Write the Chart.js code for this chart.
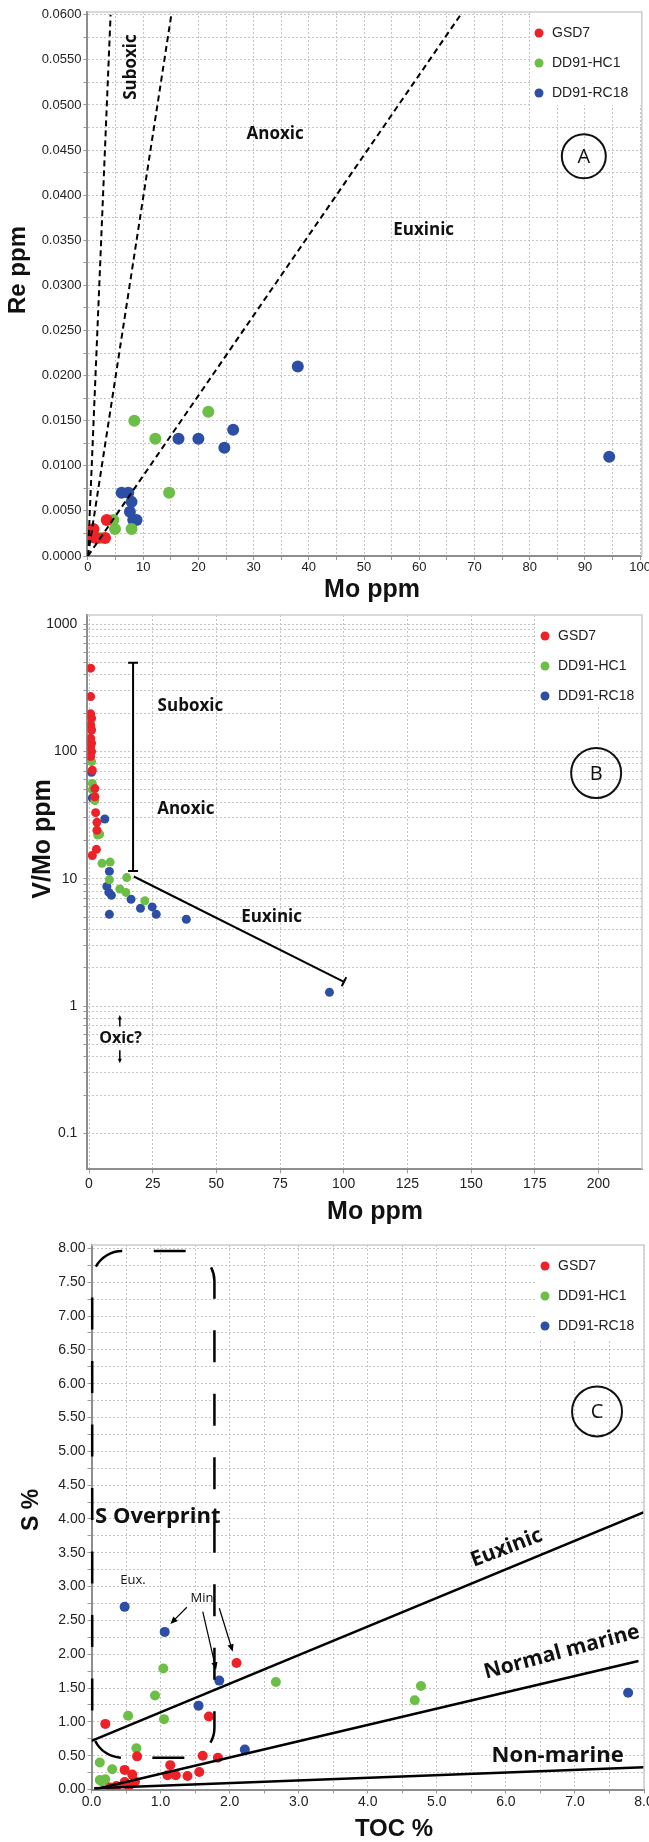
<!DOCTYPE html>
<html>
<head>
<meta charset="utf-8">
<title>Redox proxies</title>
<script src="https://cdn.jsdelivr.net/npm/chart.js@4.4.1/dist/chart.umd.min.js"></script>
<style>
  html, body { margin: 0; padding: 0; background: #ffffff; }
  .panel { position: absolute; left: 0; }
  canvas { display: block; }
</style>
</head>
<body>
<div class="panel" style="top:0px"><canvas id="chartA" width="649" height="607"></canvas></div>
<div class="panel" style="top:607px"><canvas id="chartB" width="649" height="633"></canvas></div>
<div class="panel" style="top:1240px"><canvas id="chartC" width="649" height="602"></canvas></div>
<script>
const wellNames = ['GSD7', 'DD91-HC1', 'DD91-RC18'];
const wellColors = ['#ec2228', '#6cbf46', '#2c4ea4'];

// A: Re vs Mo (ppm)
const moA_GSD7 = [1.0, 3.4, 3.1, 0.7, 1.5];
const reA_GSD7 = [0.0030, 0.0040, 0.0020, 0.0021, 0.0020];
const moA_HC1 = [8.4, 12.2, 21.8, 14.7, 4.6, 4.9, 7.9, 2.2];
const reA_HC1 = [0.0150, 0.0130, 0.0160, 0.0070, 0.0040, 0.0030, 0.0030, 0.0020];
const moA_RC18 = [38.0, 94.4, 16.4, 20.0, 24.7, 26.3, 6.1, 7.3, 7.9, 7.6, 8.2, 8.8];
const reA_RC18 = [0.0210, 0.0110, 0.0130, 0.0130, 0.0120, 0.0140, 0.0070, 0.0070, 0.0060, 0.0049, 0.0040, 0.0040];
// field boundaries: Mo at Re = 0 and at Re = 0.06
const boundMoA = [[0, 4.1], [0, 15.1], [0, 67.5]];
const boundReA = [0, 0.06];
const moTicksA = [0, 10, 20, 30, 40, 50, 60, 70, 80, 90, 100];
const reTicksA = [0, 0.005, 0.01, 0.015, 0.02, 0.025, 0.03, 0.035, 0.04, 0.045, 0.05, 0.055, 0.06];

// B: V/Mo vs Mo (ppm)
const moB_GSD7 = [0.65, 0.65, 0.65, 1.0, 0.65, 1.0, 0.65, 1.0, 0.65, 1.0, 0.65, 1.3, 2.3, 2.3, 2.6, 3.1, 3.1, 2.9, 1.3];
const vmoB_GSD7 = [450, 269, 197, 182, 161, 147, 127, 116, 109, 99.5, 91, 71, 51, 44, 33, 27.7, 24, 17, 15.2];
const moB_HC1 = [0.65, 1.0, 1.3, 1.3, 2.3, 4.2, 3.4, 5.1, 8.3, 8.0, 14.8, 12.1, 14.5, 21.9];
const vmoB_HC1 = [161, 83, 56, 50, 41, 22.4, 22, 13.2, 13.5, 9.8, 10.2, 8.3, 7.8, 6.7];
const moB_RC18 = [1.0, 1.3, 6.2, 8.0, 7.0, 7.8, 8.8, 16.5, 8.0, 20.2, 24.8, 26.4, 38.2, 94.4];
const vmoB_RC18 = [68.5, 43, 29.4, 11.4, 8.7, 7.8, 7.4, 6.9, 5.25, 5.85, 6.0, 5.25, 4.8, 1.28];
// suboxic/anoxic range bar and euxinic trend
const barMoB = [17.3, 17.3];
const barVmoB = [497, 11.5];
const trendMoB = [17.6, 100.1];
const trendVmoB = [10.4, 1.55];
const oxicUpVmoB = [0.69, 0.85];
const oxicDownVmoB = [0.45, 0.355];
const moTicksB = [0, 25, 50, 75, 100, 125, 150, 175, 200];
const vmoTicksB = [0.1, 1, 10, 100, 1000];

// C: S vs TOC (%)
const tocC_GSD7 = [0.2, 2.1, 1.7, 0.66, 1.61, 1.83, 1.14, 0.48, 0.59, 1.1, 1.22, 1.39, 1.56, 0.63, 0.48, 0.36, 0.27, 0.54];
const sC_GSD7 = [0.97, 1.87, 1.08, 0.49, 0.5, 0.47, 0.36, 0.29, 0.22, 0.21, 0.21, 0.2, 0.26, 0.12, 0.11, 0.05, 0.03, 0.05];
const tocC_HC1 = [0.12, 0.3, 0.12, 0.2, 0.15, 0.65, 0.53, 1.05, 0.92, 1.04, 2.67, 4.68, 4.77];
const sC_HC1 = [0.4, 0.3, 0.14, 0.15, 0.12, 0.61, 1.09, 1.04, 1.39, 1.79, 1.59, 1.32, 1.53];
const tocC_RC18 = [0.48, 1.06, 1.85, 1.55, 2.22, 7.77];
const sC_RC18 = [2.7, 2.33, 1.61, 1.24, 0.59, 1.43];
// C/S reference lines
const euxTocC = [0, 8];
const euxSC = [0.72, 4.1];
const marineTocC = [0.04, 7.92];
const marineSC = [0.0, 1.9];
const nonMarineTocC = [0.04, 8];
const nonMarineSC = [0.02, 0.33];
const tocTicksC = [0, 1, 2, 3, 4, 5, 6, 7, 8];
const sTicksC = [0, 0.5, 1, 1.5, 2, 2.5, 3, 3.5, 4, 4.5, 5, 5.5, 6, 6.5, 7, 7.5, 8];

const tickFamily = '"Liberation Sans", Arial, sans-serif';
const noteFamily = '"Open Sans", sans-serif';

const pts = (xs, ys) => xs.map((x, i) => ({ x, y: ys[i] }));

function series(xs, ys, k, r) {
  return {
    label: wellNames[k], data: pts(xs, ys), backgroundColor: wellColors[k],
    borderWidth: 0, pointRadius: r, pointHoverRadius: r, order: 2
  };
}

function guide(xs, ys, extra) {
  return Object.assign({
    data: pts(xs, ys), showLine: true, borderColor: '#000', borderWidth: 2,
    pointRadius: 0, order: 1
  }, extra);
}

// labelled values plus a gridline half way between each pair
function halves(list) {
  const out = [];
  list.forEach((v, i) => {
    out.push(v);
    if (i < list.length - 1) out.push((v + list[i + 1]) / 2);
  });
  return out;
}

function logGrid(decades) {
  const out = [];
  decades.forEach((d, i) => {
    out.push(d);
    if (i < decades.length - 1) for (let k = 2; k <= 9; k++) out.push(d * k);
  });
  return out;
}

function axis(o) {
  return {
    type: o.type || 'linear', min: o.min, max: o.max, bounds: 'data',
    afterBuildTicks: s => { s.ticks = o.grid.map(v => ({ value: v })); },
    afterFit: s => {
      if (o.horizontal) s.height = o.size; else s.width = o.size;
      s.paddingLeft = s.paddingRight = s.paddingTop = s.paddingBottom = 0;
    },
    ticks: {
      autoSkip: false, maxRotation: 0, minRotation: 0, padding: o.pad, color: '#222',
      font: { family: tickFamily, size: o.fontSize },
      callback: v => o.labelled.some(t => Math.abs(t - v) < 1e-9) ? o.fmt(v) : ''
    },
    grid: { color: '#c4c4c4', lineWidth: 1, tickLength: 4, tickColor: '#999', tickWidth: 1, tickBorderDash: [] },
    border: { display: true, color: '#8e8e8e', width: 2, dash: [2, 2] }
  };
}

function drawArrow(ctx, x1, y1, x2, y2, head) {
  const ang = Math.atan2(y2 - y1, x2 - x1);
  ctx.beginPath();
  ctx.moveTo(x1, y1);
  ctx.lineTo(x2 - Math.cos(ang) * head * 0.8, y2 - Math.sin(ang) * head * 0.8);
  ctx.stroke();
  ctx.beginPath();
  ctx.moveTo(x2, y2);
  ctx.lineTo(x2 - head * Math.cos(ang - 0.4), y2 - head * Math.sin(ang - 0.4));
  ctx.lineTo(x2 - head * Math.cos(ang + 0.4), y2 - head * Math.sin(ang + 0.4));
  ctx.closePath();
  ctx.fill();
}

// frame, legend, field labels, panel letter and axis titles
function decor(spec) {
  return {
    id: 'decor',
    afterDatasetsDraw(chart) {
      const { ctx, chartArea: a } = chart;
      const sx = chart.scales.x, sy = chart.scales.y;
      const px = v => sx.getPixelForValue(v), py = v => sy.getPixelForValue(v);
      ctx.save();

      // legend
      const lg = spec.legend;
      ctx.fillStyle = '#fff';
      ctx.fillRect(lg.left, a.top, a.right - lg.left, lg.bottom - a.top);
      ctx.font = '14px ' + tickFamily;
      ctx.textBaseline = 'middle';
      ctx.textAlign = 'left';
      wellNames.forEach((name, i) => {
        const y = lg.rows[i];
        ctx.fillStyle = wellColors[i];
        ctx.beginPath();
        ctx.arc(lg.dot, y, 4.5, 0, Math.PI * 2);
        ctx.fill();
        ctx.fillStyle = '#222';
        ctx.fillText(name, lg.text, y);
      });

      // top and right frame
      ctx.strokeStyle = '#cdcdcd';
      ctx.lineWidth = 1.5;
      ctx.beginPath();
      ctx.moveTo(a.left, a.top);
      ctx.lineTo(a.right, a.top);
      ctx.lineTo(a.right, a.bottom);
      ctx.stroke();

      // dashed outline of a field, traced from the lower left corner clockwise
      if (spec.box) {
        const b = spec.box;
        const l = px(b.x0), r = px(b.x1), t = py(b.y1), btm = py(b.y0), rad = b.radius;
        ctx.strokeStyle = '#000';
        ctx.lineWidth = 2.5;
        ctx.setLineDash(b.dash);
        ctx.lineDashOffset = b.offset;
        ctx.beginPath();
        ctx.moveTo(l, btm - rad);
        ctx.arcTo(l, t, r, t, rad);
        ctx.arcTo(r, t, r, btm, rad);
        ctx.arcTo(r, btm, l, btm, rad);
        ctx.arcTo(l, btm, l, t, rad);
        ctx.stroke();
        ctx.setLineDash([]);
      }

      // arrows
      ctx.strokeStyle = '#000';
      ctx.fillStyle = '#000';
      (spec.arrows || []).forEach(ar => {
        ctx.lineWidth = ar.width;
        drawArrow(ctx, px(ar.x[0]), py(ar.y[0]), px(ar.x[1]), py(ar.y[1]), ar.head);
      });

      // text in data coordinates
      ctx.fillStyle = '#111';
      ctx.textAlign = 'center';
      ctx.textBaseline = 'middle';
      (spec.notes || []).forEach(n => {
        ctx.save();
        ctx.translate(px(n.x), py(n.y));
        ctx.rotate((n.rotate || 0) * Math.PI / 180);
        ctx.font = n.font;
        ctx.fillText(n.text, 0, 0);
        ctx.restore();
      });

      // panel letter
      const ring = spec.ring;
      ctx.strokeStyle = '#111';
      ctx.lineWidth = 2;
      ctx.beginPath();
      ctx.arc(px(ring.x), py(ring.y), ring.r, 0, Math.PI * 2);
      ctx.stroke();
      ctx.font = '20px ' + noteFamily;
      ctx.fillText(ring.letter, px(ring.x), py(ring.y) + 1);

      // axis titles
      spec.titles.forEach(tt => {
        ctx.save();
        ctx.translate(tt.x, tt.y);
        ctx.rotate((tt.rotate || 0) * Math.PI / 180);
        ctx.font = tt.font;
        ctx.fillStyle = '#111';
        ctx.fillText(tt.text, 0, 0);
        ctx.restore();
      });
      ctx.restore();
    }
  };
}

const base = {
  responsive: false, animation: false, devicePixelRatio: 1, events: [],
  plugins: { legend: { display: false }, tooltip: { enabled: false } }
};
const titleFont = 'bold 25px ' + tickFamily;
const fieldFont = 'bold 17px ' + noteFamily;

// Panel A
new Chart(document.getElementById('chartA'), {
  type: 'scatter',
  data: {
    datasets: [
      ...boundMoA.map(m => guide(m, boundReA, { borderDash: [6, 4] })),
      series(moA_GSD7, reA_GSD7, 0, 6),
      series(moA_HC1, reA_HC1, 1, 6),
      series(moA_RC18, reA_RC18, 2, 6)
    ]
  },
  options: Object.assign({}, base, {
    layout: { padding: { left: 0, top: 12, right: 7.2, bottom: 0 } },
    scales: {
      x: axis({ min: -0.1, max: 100.3, grid: halves(moTicksA), labelled: moTicksA, fmt: v => String(v),
        fontSize: 13, pad: 0, horizontal: true, size: 51 }),
      y: axis({ min: 0, max: 0.0603, grid: halves(reTicksA), labelled: reTicksA, fmt: v => v.toFixed(4),
        fontSize: 13, pad: 2, size: 87.4 })
    }
  }),
  plugins: [decor({
    legend: { left: 530, bottom: 105, dot: 539, text: 552, rows: [33, 63, 93] },
    notes: [
      { text: 'Suboxic', x: 7.8, y: 0.0542, rotate: -90, font: fieldFont },
      { text: 'Anoxic', x: 33.9, y: 0.0468, font: fieldFont },
      { text: 'Euxinic', x: 60.8, y: 0.0361, font: fieldFont }
    ],
    ring: { x: 89.8, y: 0.0443, r: 22, letter: 'A' },
    titles: [
      { text: 'Re ppm', x: 18.7, y: 270, rotate: -90, font: 'bold 24px ' + tickFamily },
      { text: 'Mo ppm', x: 372, y: 590, font: titleFont }
    ]
  })]
});

// Panel B
new Chart(document.getElementById('chartB'), {
  type: 'scatter',
  data: {
    datasets: [
      guide(barMoB, barVmoB, { pointStyle: 'line', pointRadius: 5, pointBorderWidth: 2, pointBorderColor: '#000' }),
      guide(trendMoB, trendVmoB, { pointStyle: 'line', pointRadius: [0, 5], pointRotation: [0, 117], pointBorderWidth: 2, pointBorderColor: '#000' }),
      series(moB_GSD7, vmoB_GSD7, 0, 4.5),
      series(moB_HC1, vmoB_HC1, 1, 4.5),
      series(moB_RC18, vmoB_RC18, 2, 4.5)
    ]
  },
  options: Object.assign({}, base, {
    layout: { padding: { left: 0, top: 8, right: 6.3, bottom: 0 } },
    scales: {
      x: axis({ min: -0.63, max: 217.1, grid: moTicksB, labelled: moTicksB, fmt: v => String(v),
        fontSize: 14, pad: 2, horizontal: true, size: 70.7 }),
      y: axis({ type: 'logarithmic', min: 0.0522, max: 1177, grid: logGrid(vmoTicksB), labelled: vmoTicksB,
        fmt: v => String(v), fontSize: 14, pad: 6, size: 87.4 })
    }
  }),
  plugins: [decor({
    legend: { left: 536, bottom: 100, dot: 545, text: 558, rows: [29, 59, 89] },
    notes: [
      { text: 'Suboxic', x: 39.8, y: 228, font: fieldFont },
      { text: 'Anoxic', x: 38, y: 35.4, font: fieldFont },
      { text: 'Euxinic', x: 71.7, y: 5.03, font: fieldFont },
      { text: 'Oxic?', x: 12.4, y: 0.561, font: 'bold 16px ' + noteFamily }
    ],
    arrows: [
      { x: [12.1, 12.1], y: oxicUpVmoB, width: 1.5, head: 5 },
      { x: [12.1, 12.1], y: oxicDownVmoB, width: 1.5, head: 5 }
    ],
    ring: { x: 199.1, y: 67.6, r: 25, letter: 'B' },
    titles: [
      { text: 'V/Mo ppm', x: 42.7, y: 232, rotate: -90, font: titleFont },
      { text: 'Mo ppm', x: 375, y: 604.7, font: titleFont }
    ]
  })]
});

// Panel C
new Chart(document.getElementById('chartC'), {
  type: 'scatter',
  data: {
    datasets: [
      guide(euxTocC, euxSC, { borderWidth: 2.5 }),
      guide(marineTocC, marineSC, { borderWidth: 2.5 }),
      guide(nonMarineTocC, nonMarineSC, { borderWidth: 2.5 }),
      series(tocC_GSD7, sC_GSD7, 0, 5),
      series(tocC_HC1, sC_HC1, 1, 5),
      series(tocC_RC18, sC_RC18, 2, 5)
    ]
  },
  options: Object.assign({}, base, {
    layout: { padding: { left: 0, top: 5, right: 4, bottom: 0 } },
    scales: {
      x: axis({ min: 0, max: 8, grid: halves(tocTicksC), labelled: tocTicksC, fmt: v => v.toFixed(1),
        fontSize: 14, pad: 0, horizontal: true, size: 52.5 }),
      y: axis({ min: 0, max: 8.05, grid: halves(sTicksC), labelled: sTicksC, fmt: v => v.toFixed(2),
        fontSize: 14, pad: 2, size: 91.5 })
    }
  }),
  plugins: [decor({
    legend: { left: 536, bottom: 100, dot: 545, text: 558, rows: [26, 56, 86] },
    box: { x0: 0.01, x1: 1.78, y0: 0.47, y1: 7.96, radius: 30, dash: [32, 31.5], offset: 46.3 },
    arrows: [
      { x: [1.38, 1.142], y: [2.695, 2.447], width: 1.2, head: 8 },
      { x: [1.611, 1.804], y: [2.63, 1.772], width: 1.2, head: 8 },
      { x: [1.851, 2.045], y: [2.68, 2.038], width: 1.2, head: 8 }
    ],
    notes: [
      { text: 'S Overprint', x: 0.96, y: 4.03, font: 'bold 22px ' + noteFamily },
      { text: 'Euxinic', x: 6.01, y: 3.57, rotate: -21, font: 'bold 21px ' + noteFamily },
      { text: 'Normal marine', x: 6.81, y: 2.03, rotate: -15, font: 'bold 21px ' + noteFamily },
      { text: 'Non-marine', x: 6.75, y: 0.5, font: 'bold 22px ' + noteFamily },
      { text: 'Eux.', x: 0.6, y: 3.1, font: '13px ' + noteFamily },
      { text: 'Min', x: 1.6, y: 2.82, font: '13px ' + noteFamily }
    ],
    ring: { x: 7.32, y: 5.59, r: 25, letter: 'C' },
    titles: [
      { text: 'S %', x: 32, y: 270, rotate: -90, font: 'bold 23px ' + tickFamily },
      { text: 'TOC %', x: 394, y: 589, font: 'bold 24px ' + tickFamily }
    ]
  })]
});
</script>
</body>
</html>
